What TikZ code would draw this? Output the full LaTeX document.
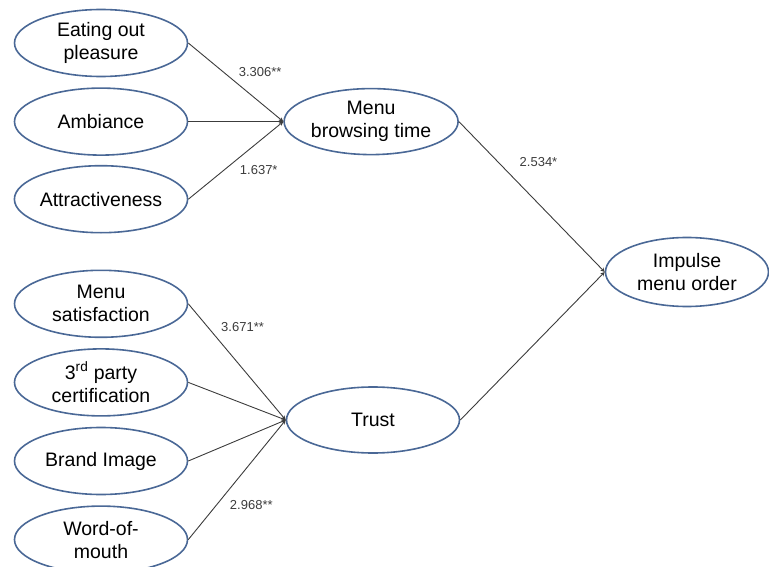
\documentclass[tikz,border=0pt]{standalone}
\usepackage{fontspec}
\setmainfont{Liberation Sans}
\usepackage{tikz}
\usetikzlibrary{shapes,arrows,positioning}
\definecolor{rimblue}{HTML}{4A6896}
\definecolor{linegray}{HTML}{3C3C3C}

\begin{document}
\begin{tikzpicture}[
    x=1pt, y=1pt,
    factor/.style={ellipse, draw=rimblue, line width=1.6pt, minimum width=173pt, minimum height=67pt, inner sep=0pt, align=center, font=\fontsize{19.5}{23}\selectfont},
    arrow/.style={->, >=stealth, draw=linegray, line width=0.9pt},
    coef/.style={font=\fontsize{13}{15}\selectfont, text=linegray, inner sep=1pt}
]
\useasboundingbox (0,0) rectangle (769,-567);

% antecedents
\node[factor] (eating) at (101,-43) {Eating out\\pleasure};
\node[factor, below=10pt of eating] (ambiance) {Ambiance};
\node[factor, below=9pt of ambiance] (attract) {Attractiveness};
\node[factor, below=36pt of attract] (menusat) {Menu\\satisfaction};
\node[factor, below=10pt of menusat] (certif) {3\textsuperscript{rd} party\\certification};
\node[factor, below=10pt of certif] (brand) {Brand Image};
\node[factor, below=10pt of brand] (wom) {Word-of-\\mouth};

% mediators and outcome
\node[factor, right=95pt of ambiance, minimum width=174pt, minimum height=66pt] (browse) {Menu\\browsing time};
\node[factor, minimum height=66pt] (trust) at (373,-420) {Trust};
\node[factor, minimum width=163pt, minimum height=69pt] (impulse) at (687,-272) {Impulse\\menu order};

\draw[arrow] (eating.east) -- node[coef, pos=0.37, right=14pt] {3.306**} (browse.west);
\draw[arrow] (ambiance.east) -- (browse.west);
\draw[arrow] (attract.east) -- node[coef, pos=0.37, right=15pt] {1.637*} (browse.west);

\draw[arrow] (menusat.east) -- node[coef, pos=0.2, right=12pt] {3.671**} (trust.west);
\draw[arrow] (certif.east) -- (trust.west);
\draw[arrow] (brand.east) -- (trust.west);
\draw[arrow] (wom.east) -- node[coef, pos=0.29, right=12pt] {2.968**} (trust.west);

\draw[arrow] (browse.east) -- node[coef, pos=0.27, right=20pt] {2.534*} (impulse.west);
\draw[arrow] (trust.east) -- (impulse.west);

\end{tikzpicture}
\end{document}
